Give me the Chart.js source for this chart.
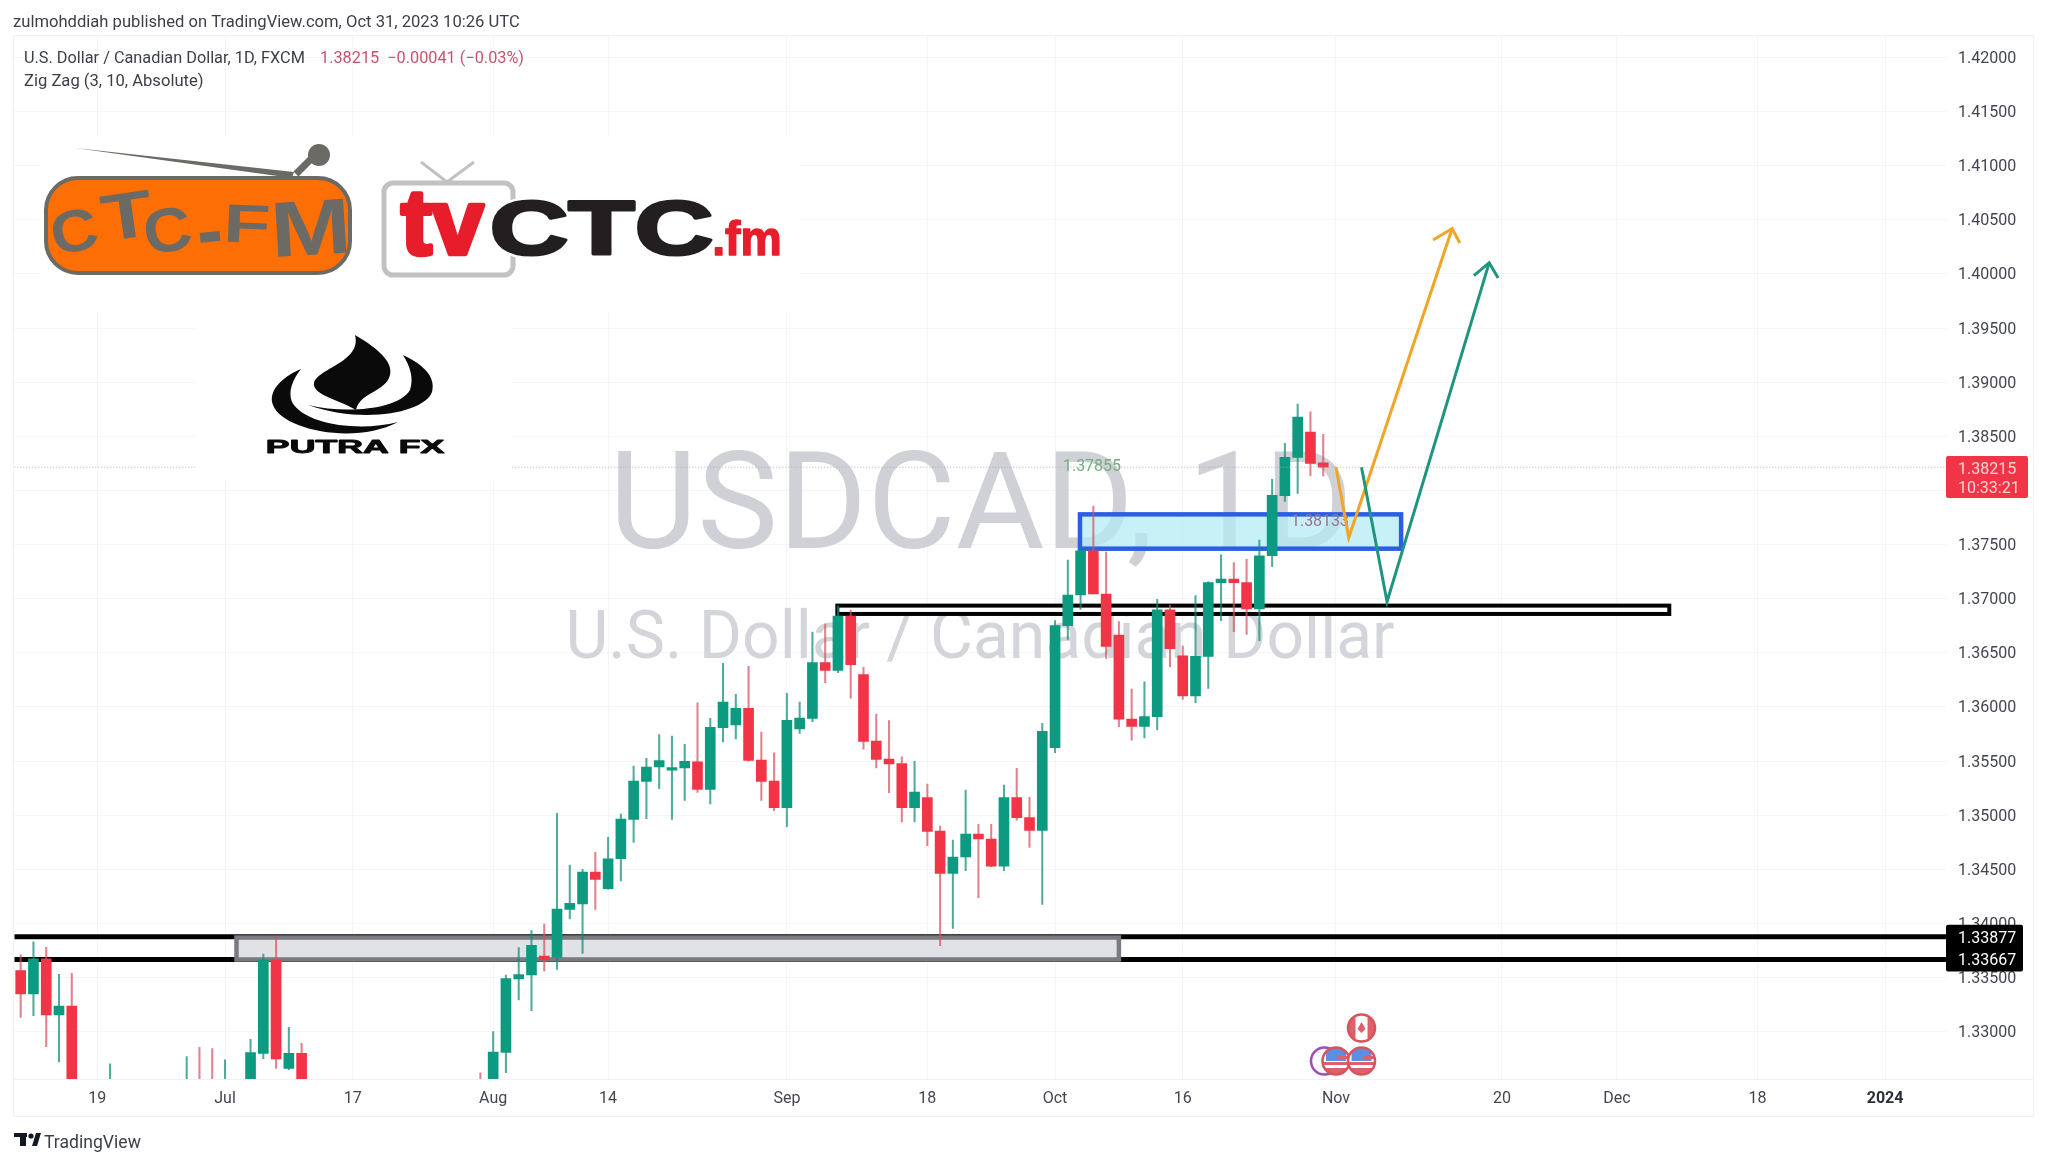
<!DOCTYPE html>
<html>
<head>
<meta charset="utf-8">
<title>USDCAD 1D</title>
<script src="https://cdn.jsdelivr.net/npm/chart.js@4/dist/chart.umd.js"></script>
<style>
	html, body { margin: 0; padding: 0; background: #ffffff; }
	canvas { display: block; }
</style>
</head>
<body>
<canvas id="chartPreview" width="2048" height="1164"></canvas>
<script>
// daily bars, values (bars below the axis bottom are rough guesses)
const dates = [
	'06-09', '06-12', '06-13', '06-14', '06-15', '06-16', '06-19', '06-20', '06-21', '06-22',
	'06-23', '06-26', '06-27', '06-28', '06-29', '06-30', '07-03', '07-04', '07-05', '07-06',
	'07-07', '07-10', '07-11', '07-12', '07-13', '07-14', '07-17', '07-18', '07-19', '07-20',
	'07-21', '07-24', '07-25', '07-26', '07-27', '07-28', '07-31', '08-01', '08-02', '08-03',
	'08-04', '08-07', '08-08', '08-09', '08-10', '08-11', '08-14', '08-15', '08-16', '08-17',
	'08-18', '08-21', '08-22', '08-23', '08-24', '08-25', '08-28', '08-29', '08-30', '08-31',
	'09-01', '09-04', '09-05', '09-06', '09-07', '09-08', '09-11', '09-12', '09-13', '09-14',
	'09-15', '09-18', '09-19', '09-20', '09-21', '09-22', '09-25', '09-26', '09-27', '09-28',
	'09-29', '10-02', '10-03', '10-04', '10-05', '10-06', '10-09', '10-10', '10-11', '10-12',
	'10-13', '10-16', '10-17', '10-18', '10-19', '10-20', '10-23', '10-24', '10-25', '10-26',
	'10-27', '10-30', '10-31'
];
const opens = [
	1.33564, 1.33348, 1.33672, 1.33154, 1.33237, 1.3240, 1.3210, 1.3200, 1.3240, 1.3215,
	1.3210, 1.3175, 1.3215, 1.3210, 1.3235, 1.3200, 1.3190, 1.3235, 1.3225, 1.32800,
	1.33662, 1.32661, 1.32800, 1.3240, 1.3215, 1.3180, 1.3140, 1.3120, 1.3115, 1.3180,
	1.3170, 1.3200, 1.3190, 1.3215, 1.3155, 1.3195, 1.3215, 1.3190, 1.32809, 1.33487,
	1.33524, 1.33699, 1.33687, 1.34130, 1.34180, 1.34475, 1.34321, 1.34598, 1.34962, 1.35313,
	1.35445, 1.35417, 1.35436, 1.35494, 1.35239, 1.35808, 1.35833, 1.35987, 1.35510, 1.35316,
	1.35069, 1.35796, 1.35895, 1.36409, 1.36338, 1.36840, 1.36298, 1.35685, 1.35519, 1.35476,
	1.35069, 1.35162, 1.34854, 1.34463, 1.34614, 1.34826, 1.34780, 1.34530, 1.35162, 1.34977,
	1.34860, 1.35624, 1.36751, 1.37034, 1.37443, 1.37043, 1.36664, 1.35888, 1.35821, 1.35910,
	1.36898, 1.36473, 1.36101, 1.36467, 1.37148, 1.37182, 1.37148, 1.36905, 1.37397, 1.37951,
	1.38306, 1.38539, 1.38256
];
const highs = [
	1.33709, 1.33831, 1.33779, 1.33530, 1.33539, 1.3250, 1.3235, 1.32702, 1.3255, 1.3245,
	1.3250, 1.3225, 1.3250, 1.32769, 1.32856, 1.32843, 1.32739, 1.3250, 1.32929, 1.33718,
	1.33878, 1.33040, 1.32892, 1.3250, 1.3225, 1.3200, 1.3170, 1.3150, 1.3190, 1.3200,
	1.3215, 1.3235, 1.3225, 1.3235, 1.3210, 1.3230, 1.32621, 1.33000, 1.33524, 1.33776,
	1.33933, 1.33995, 1.35017, 1.34540, 1.34500, 1.34657, 1.34795, 1.35011, 1.35454, 1.35525,
	1.35744, 1.35731, 1.35654, 1.36039, 1.35895, 1.36403, 1.36116, 1.36375, 1.35768, 1.35577,
	1.36125, 1.36045, 1.36692, 1.36766, 1.36932, 1.36895, 1.36366, 1.35935, 1.35873, 1.35540,
	1.35497, 1.35288, 1.34900, 1.34771, 1.35233, 1.34915, 1.34915, 1.35279, 1.35433, 1.35165,
	1.35848, 1.36797, 1.37357, 1.37480, 1.37855, 1.37431, 1.36788, 1.36166, 1.36233, 1.36994,
	1.36941, 1.36563, 1.37028, 1.37157, 1.37406, 1.37333, 1.37363, 1.37542, 1.38102, 1.38435,
	1.38798, 1.38727, 1.38518
];
const lows = [
	1.33133, 1.33148, 1.32862, 1.32720, 1.3235, 1.3190, 1.3180, 1.3190, 1.3200, 1.3190,
	1.3165, 1.3160, 1.3190, 1.3200, 1.3185, 1.3170, 1.3180, 1.3215, 1.3215, 1.32751,
	1.32661, 1.32650, 1.3235, 1.3205, 1.3170, 1.3130, 1.3110, 1.3100, 1.3105, 1.3150,
	1.3155, 1.3170, 1.3170, 1.3140, 1.3150, 1.3180, 1.3180, 1.3180, 1.32621, 1.33293,
	1.33194, 1.33560, 1.33576, 1.34041, 1.33724, 1.34130, 1.34315, 1.34392, 1.34749, 1.34968,
	1.35245, 1.34962, 1.35137, 1.35211, 1.35103, 1.35676, 1.35704, 1.35500, 1.35137, 1.35042,
	1.34894, 1.35756, 1.35864, 1.36224, 1.36316, 1.36082, 1.35611, 1.35436, 1.35208, 1.34937,
	1.34937, 1.34718, 1.33794, 1.33955, 1.34487, 1.34238, 1.34524, 1.34487, 1.34955, 1.34703,
	1.34176, 1.35577, 1.36624, 1.36901, 1.37043, 1.36449, 1.35818, 1.35694, 1.35713, 1.35787,
	1.36372, 1.36070, 1.36039, 1.36172, 1.36797, 1.36695, 1.36671, 1.36612, 1.37296, 1.37899,
	1.37973, 1.38136, 1.38133
];
const closes = [
	1.33348, 1.33672, 1.33154, 1.33237, 1.3240, 1.3210, 1.3200, 1.3240, 1.3215, 1.3210,
	1.3175, 1.3215, 1.3235, 1.3235, 1.3200, 1.3190, 1.3235, 1.3225, 1.32806, 1.33662,
	1.32748, 1.32800, 1.3240, 1.3215, 1.3180, 1.3140, 1.3120, 1.3115, 1.3180, 1.3170,
	1.3200, 1.3190, 1.3215, 1.3155, 1.3195, 1.3190, 1.3190, 1.32812, 1.33490, 1.33527,
	1.33798, 1.33662, 1.34133, 1.34186, 1.34475, 1.34407, 1.34598, 1.34965, 1.35316, 1.35445,
	1.35504, 1.35439, 1.35497, 1.35239, 1.35811, 1.36045, 1.35987, 1.35507, 1.35313, 1.35069,
	1.35876, 1.35898, 1.36409, 1.36338, 1.36840, 1.36390, 1.35682, 1.35516, 1.35473, 1.35069,
	1.35214, 1.34851, 1.34463, 1.34614, 1.34826, 1.34780, 1.34530, 1.35162, 1.34977, 1.34860,
	1.35774, 1.36751, 1.37034, 1.37443, 1.37043, 1.36560, 1.35888, 1.35821, 1.35910, 1.36898,
	1.36538, 1.36101, 1.36467, 1.37148, 1.37182, 1.37148, 1.36905, 1.37397, 1.37955, 1.38306,
	1.38678, 1.38250, 1.38215
];

const priceTicks = [1.33, 1.335, 1.34, 1.345, 1.35, 1.355, 1.36, 1.365, 1.37, 1.375, 1.38, 1.385, 1.39, 1.395, 1.4, 1.405, 1.41, 1.415, 1.42];
const timeTickBars = [6, 16, 26, 37, 46, 60, 71, 81, 91, 103, 116, 125, 136, 146];
const timeTickLabels = ['19', 'Jul', '17', 'Aug', '14', 'Sep', '18', 'Oct', '16', 'Nov', '20', 'Dec', '18', '2024'];

const lastPrice = 1.38215;
const supportLevels = [1.33877, 1.33667];
const greyZoneBars = [16.9, 86];
const greyZonePrices = [1.33870, 1.33667];
const blueZoneBars = [82.95, 108.1];
const blueZonePrices = [1.37779, 1.37462];
const blackZoneBars = [63.95, 129.1];
const blackZonePrices = [1.36936, 1.36859];

const orangePathBars = [103, 104, 112.1];
const orangePathPrices = [1.38215, 1.37564, 1.40419];
const orangeHeadBars = [110.6, 112.1, 112.7];
const orangeHeadPrices = [1.40313, 1.40419, 1.40286];
const greenPathBars = [105, 107, 115];
const greenPathPrices = [1.38215, 1.36972, 1.40104];
const greenHeadBars = [113.8, 115, 115.7];
const greenHeadPrices = [1.39984, 1.40104, 1.39962];

const UP_COLOR = '#0c9a80';
const DOWN_COLOR = '#f23447';
const UP_WICK = 'rgba(12,140,118,0.72)';
const DOWN_WICK = 'rgba(215,80,95,0.72)';
const FONT = 'Roboto, "Liberation Sans", sans-serif';
const LOGO_FONT = 'bold 100px "Liberation Sans"';

const toPoints = function (xs, ys) {
	return xs.map(function (x, i) {
		return { x: x, y: ys[i] };
	});
};

const lineDataset = function (points, color, width, order, dash) {
	return {
		type: 'line',
		data: points,
		borderColor: color,
		borderWidth: width,
		borderDash: dash || [],
		pointRadius: 0,
		tension: 0,
		order: order,
	};
};

const isUp = function (i) {
	return closes[i] >= opens[i];
};

const isBoldTick = function (ctx) {
	return ctx.tick && ctx.tick.label === '2024';
};

const text = function (ctx, str, x, y, font, color, align) {
	ctx.font = font;
	ctx.fillStyle = color;
	ctx.textAlign = align || 'left';
	ctx.textBaseline = 'alphabetic';
	ctx.fillText(str, x, y);
};

// squeezes a word into a box, logos only
const fitText = function (ctx, str, left, right, top, bottom, color, weight, rotation, halo) {
	ctx.save();
	ctx.font = LOGO_FONT;
	ctx.textAlign = 'left';
	ctx.textBaseline = 'alphabetic';
	const m = ctx.measureText(str);
	const w = m.actualBoundingBoxLeft + m.actualBoundingBoxRight;
	const h = m.actualBoundingBoxAscent + m.actualBoundingBoxDescent;
	ctx.translate((left + right) / 2, (top + bottom) / 2);
	ctx.rotate(rotation || 0);
	ctx.scale((right - left) / w, (bottom - top) / h);
	const tx = -(m.actualBoundingBoxRight - m.actualBoundingBoxLeft) / 2;
	const ty = (m.actualBoundingBoxAscent - m.actualBoundingBoxDescent) / 2;
	if (halo) {
		ctx.strokeStyle = '#ffffff';
		ctx.lineWidth = halo;
		ctx.strokeText(str, tx, ty);
	}
	ctx.fillStyle = color;
	ctx.strokeStyle = color;
	ctx.lineWidth = weight || 0;
	ctx.lineJoin = 'round';
	if (weight) {
		ctx.strokeText(str, tx, ty);
	}
	ctx.fillText(str, tx, ty);
	ctx.restore();
};

const drawWatermark = function (chart) {
	const ctx = chart.ctx;
	ctx.save();
	text(ctx, 'USDCAD, 1D', 981, 548, '136px ' + FONT, '#cfd1d6', 'center');
	text(ctx, 'U.S. Dollar / Canadian Dollar', 980, 658, '66px ' + FONT, '#d3d5da', 'center');
	ctx.restore();
};

const drawZone = function (chart, bars, prices, fill, stroke, width) {
	const ctx = chart.ctx;
	const x = chart.scales.x;
	const y = chart.scales.y;
	const left = x.getPixelForValue(bars[0]);
	const right = x.getPixelForValue(bars[1]);
	const top = y.getPixelForValue(prices[0]);
	const bottom = y.getPixelForValue(prices[1]);
	ctx.save();
	ctx.fillStyle = fill;
	ctx.fillRect(left, top, right - left, bottom - top);
	ctx.strokeStyle = stroke;
	ctx.lineWidth = width;
	ctx.strokeRect(left, top, right - left, bottom - top);
	ctx.restore();
};

const drawFrame = function (chart) {
	const ctx = chart.ctx;
	ctx.save();
	ctx.strokeStyle = '#eff1f4';
	ctx.lineWidth = 1;
	ctx.strokeRect(13.5, 35.5, 2020, 1081);
	ctx.beginPath();
	ctx.moveTo(14, 1079.5);
	ctx.lineTo(2034, 1079.5);
	ctx.stroke();
	ctx.restore();
};

const drawHeader = function (ctx) {
	text(ctx, 'zulmohddiah published on TradingView.com, Oct 31, 2023 10:26 UTC', 13, 27, '16.6px ' + FONT, '#3c3f48');
	text(ctx, 'U.S. Dollar / Canadian Dollar, 1D, FXCM', 24, 63, '16.3px ' + FONT, '#3c3f48');
	text(ctx, '1.38215  \u22120.00041 (\u22120.03%)', 320, 63, '16.3px ' + FONT, '#c4566c');
	text(ctx, 'Zig Zag (3, 10, Absolute)', 24, 86, '16.6px ' + FONT, '#3c3f48');

	// footer mark
	ctx.fillStyle = '#131722';
	ctx.fillRect(14, 1133, 13, 4);
	ctx.fillRect(20, 1133, 6, 13);
	ctx.beginPath();
	ctx.arc(31, 1136, 2.6, 0, Math.PI * 2);
	ctx.fill();
	ctx.beginPath();
	ctx.moveTo(32, 1146);
	ctx.lineTo(36, 1133);
	ctx.lineTo(41, 1133);
	ctx.lineTo(37, 1146);
	ctx.closePath();
	ctx.fill();
	text(ctx, 'TradingView', 44, 1148, '17.6px ' + FONT, '#3c3f48');
};

const drawRadioLogo = function (ctx) {
	const gray = '#6b6a65';
	ctx.fillStyle = gray;
	ctx.beginPath();
	ctx.moveTo(75, 148);
	ctx.lineTo(294, 172);
	ctx.lineTo(292, 178);
	ctx.closePath();
	ctx.fill();
	ctx.strokeStyle = gray;
	ctx.lineWidth = 7;
	ctx.beginPath();
	ctx.moveTo(296, 174);
	ctx.lineTo(312, 158);
	ctx.stroke();
	ctx.beginPath();
	ctx.arc(319, 155, 11, 0, Math.PI * 2);
	ctx.fill();

	ctx.beginPath();
	ctx.roundRect(46, 178, 304, 95, 32);
	ctx.fillStyle = '#fd6e05';
	ctx.fill();
	ctx.lineWidth = 4;
	ctx.stroke();

	fitText(ctx, 'C', 53, 96, 210, 252, gray, 0, -0.2);
	fitText(ctx, 'T', 102, 152, 192, 238, gray, 0, -0.14);
	fitText(ctx, 'C', 146, 190, 208, 252, gray, 0, -0.16);
	fitText(ctx, '.', 199, 220, 232, 242, gray, 0, -0.1);
	fitText(ctx, 'F', 228, 268, 205, 243, gray, 0, 0.04);
	fitText(ctx, 'M', 276, 345, 200, 255, gray, 0, -0.06);
};

const drawTvLogo = function (ctx) {
	ctx.strokeStyle = '#c2c2c2';
	ctx.lineWidth = 5;
	ctx.beginPath();
	ctx.roundRect(384, 183, 129, 92, 9);
	ctx.stroke();
	ctx.lineWidth = 3;
	ctx.beginPath();
	ctx.moveTo(421, 162);
	ctx.lineTo(447, 182);
	ctx.lineTo(474, 162);
	ctx.stroke();

	fitText(ctx, 'tv', 402, 484, 193, 255, '#e71d2b', 5);
	fitText(ctx, 'CTC', 494, 711, 201, 255, '#231f20', 4, 0, 10);
	fitText(ctx, '.fm', 715, 779, 220, 255, '#e71d2b', 3);
};

const drawPutraLogo = function (ctx) {
	ctx.fillStyle = '#0a0a0a';
	// center flame
	ctx.beginPath();
	ctx.moveTo(355, 335);
	ctx.bezierCurveTo(372, 345, 394, 360, 390, 375);
	ctx.bezierCurveTo(386, 392, 360, 392, 356, 410);
	ctx.bezierCurveTo(340, 400, 312, 395, 314, 383);
	ctx.bezierCurveTo(318, 368, 362, 362, 355, 335);
	ctx.closePath();
	ctx.fill();
	// left and bottom crescent
	ctx.beginPath();
	ctx.moveTo(301, 369);
	ctx.bezierCurveTo(280, 378, 268, 392, 273, 405);
	ctx.bezierCurveTo(282, 430, 355, 445, 398, 422);
	ctx.bezierCurveTo(360, 432, 305, 425, 292, 402);
	ctx.bezierCurveTo(288, 392, 292, 380, 301, 369);
	ctx.closePath();
	ctx.fill();
	// right crescent
	ctx.beginPath();
	ctx.moveTo(403, 355);
	ctx.bezierCurveTo(425, 365, 436, 378, 432, 392);
	ctx.bezierCurveTo(425, 412, 365, 425, 308, 405);
	ctx.bezierCurveTo(345, 414, 398, 410, 410, 390);
	ctx.bezierCurveTo(414, 378, 410, 366, 403, 355);
	ctx.closePath();
	ctx.fill();

	fitText(ctx, 'PUTRA FX', 268, 444, 440, 453, '#0a0a0a', 5);
};

const drawEventIcon = function (ctx, cx, cy, kind) {
	ctx.save();
	ctx.beginPath();
	ctx.arc(cx, cy, 13, 0, Math.PI * 2);
	ctx.fillStyle = '#ffffff';
	ctx.fill();
	ctx.clip();
	if (kind === 'us') {
		ctx.fillStyle = '#5c8fe0';
		ctx.fillRect(cx - 10, cy - 13, 20, 13);
		ctx.fillStyle = '#e0606a';
		ctx.fillRect(cx - 13, cy + 1, 26, 3);
		ctx.fillRect(cx - 13, cy + 7, 26, 6);
		ctx.fillRect(cx + 2, cy - 5, 11, 3);
	} else if (kind === 'ca') {
		ctx.fillStyle = '#e0606a';
		ctx.fillRect(cx - 13, cy - 13, 7, 26);
		ctx.fillRect(cx + 6, cy - 13, 7, 26);
		ctx.beginPath();
		ctx.moveTo(cx, cy - 6);
		ctx.lineTo(cx + 4, cy + 1);
		ctx.lineTo(cx, cy + 5);
		ctx.lineTo(cx - 4, cy + 1);
		ctx.closePath();
		ctx.fill();
	}
	ctx.restore();
	ctx.beginPath();
	ctx.arc(cx, cy, 13.5, 0, Math.PI * 2);
	ctx.strokeStyle = kind === 'other' ? '#9c4fb8' : '#d9535e';
	ctx.lineWidth = 2.5;
	ctx.stroke();
};

const drawPriceLabels = function (chart) {
	const ctx = chart.ctx;
	const y = chart.scales.y;
	ctx.save();
	// black level tags
	ctx.fillStyle = '#000000';
	const top = y.getPixelForValue(supportLevels[0]) - 12;
	const bottom = y.getPixelForValue(supportLevels[1]) + 12;
	ctx.beginPath();
	ctx.roundRect(1946, top, 77, bottom - top, 2);
	ctx.fill();
	supportLevels.forEach(function (level) {
		text(ctx, level.toFixed(5), 1958, y.getPixelForValue(level) + 6, '16px ' + FONT, '#ffffff');
	});
	// last price tag
	ctx.fillStyle = DOWN_COLOR;
	ctx.beginPath();
	ctx.roundRect(1946, 456, 82, 42, 2);
	ctx.fill();
	text(ctx, lastPrice.toFixed(5), 1958, 474, '16px ' + FONT, '#ffd5d8');
	text(ctx, '10:33:21', 1958, 493, '16px ' + FONT, '#ffd5d8');
	ctx.restore();
};

const overlayPlugin = {
	id: 'overlay',
	beforeDatasetsDraw: function (chart) {
		drawWatermark(chart);
	},
	beforeDatasetDraw: function (chart, args) {
		// zones sit over the level lines but under the candles
		if (args.index !== 2) {
			return;
		}
		drawZone(chart, greyZoneBars, greyZonePrices, '#e1e2e5', '#797a82', 4.5);
		drawZone(chart, blackZoneBars, blackZonePrices, '#ffffff', '#000000', 4);
		drawZone(chart, blueZoneBars, blueZonePrices, 'rgba(178,235,242,0.72)', '#2b5ee6', 4.5);
		const ctx = chart.ctx;
		ctx.save();
		text(ctx, '1.37855', 1092, 471, '16px ' + FONT, '#74ad7d', 'center');
		text(ctx, '1.38133', 1320, 526, '16px ' + FONT, '#9a7092', 'center');
		ctx.restore();
	},
	afterDraw: function (chart) {
		const ctx = chart.ctx;
		const x = chart.scales.x;
		ctx.save();
		drawFrame(chart);
		drawHeader(ctx);
		// logos were pasted on white panels
		ctx.fillStyle = '#ffffff';
		ctx.fillRect(39, 137, 761, 176);
		ctx.fillRect(195, 313, 317, 167);
		drawRadioLogo(ctx);
		drawTvLogo(ctx);
		drawPutraLogo(ctx);
		drawEventIcon(ctx, x.getPixelForValue(102.1), 1061, 'other');
		drawEventIcon(ctx, x.getPixelForValue(103), 1061, 'us');
		drawEventIcon(ctx, x.getPixelForValue(105), 1061, 'us');
		drawEventIcon(ctx, x.getPixelForValue(105), 1028, 'ca');
		ctx.restore();
		drawPriceLabels(chart);
	},
};

const handleInitialChart = function () {
	const chart = document.getElementById('chartPreview').getContext('2d');
	const lastBar = 150.77;

	new Chart(chart, {
		type: 'bar',
		plugins: [overlayPlugin],
		data: {
			datasets: [
				lineDataset(toPoints([-0.5, lastBar], [supportLevels[0], supportLevels[0]]), '#000000', 5, 9),
				lineDataset(toPoints([-0.5, lastBar], [supportLevels[1], supportLevels[1]]), '#000000', 5, 9),
				{
					// wicks
					data: dates.map(function (d, i) {
						return { x: i, y: [lows[i], highs[i]] };
					}),
					backgroundColor: dates.map(function (d, i) {
						return isUp(i) ? UP_WICK : DOWN_WICK;
					}),
					barThickness: 1.4,
					grouped: false,
					order: 5,
				},
				{
					// bodies
					data: dates.map(function (d, i) {
						return { x: i, y: [Math.min(opens[i], closes[i]), Math.max(opens[i], closes[i])] };
					}),
					backgroundColor: dates.map(function (d, i) {
						return isUp(i) ? UP_COLOR : DOWN_COLOR;
					}),
					barThickness: 10,
					grouped: false,
					order: 4,
				},
				lineDataset(toPoints([-0.5, lastBar], [lastPrice, lastPrice]), '#a9abb0', 1, 3, [1, 2]),
				lineDataset(toPoints(orangePathBars, orangePathPrices), '#f0a428', 3, 2),
				lineDataset(toPoints(orangeHeadBars, orangeHeadPrices), '#f0a428', 3, 2),
				lineDataset(toPoints(greenPathBars, greenPathPrices), '#1f9580', 3, 1),
				lineDataset(toPoints(greenHeadBars, greenHeadPrices), '#1f9580', 3, 1),
			]
		},
		options: {
			responsive: false,
			animation: false,
			events: [],
			layout: {
				padding: { left: 14.3, top: 36, right: 14, bottom: 48 }
			},
			plugins: {
				legend: { display: false },
				tooltip: { enabled: false },
			},
			scales: {
				x: {
					type: 'linear',
					offset: false,
					min: -0.5,
					max: lastBar,
					afterBuildTicks: function (axis) {
						axis.ticks = timeTickBars.map(function (v) {
							return { value: v };
						});
					},
					afterFit: function (axis) {
						axis.height = 37;
					},
					grid: {
						offset: false,
						color: '#f4f5f7',
						drawTicks: false,
					},
					border: { display: false },
					ticks: {
						color: function (ctx) {
							return isBoldTick(ctx) ? '#2a2e39' : '#434651';
						},
						font: function (ctx) {
							return { family: FONT, size: 16, weight: isBoldTick(ctx) ? 'bold' : 'normal' };
						},
						padding: 10,
						maxRotation: 0,
						autoSkip: false,
						callback: function (value) {
							return timeTickLabels[timeTickBars.indexOf(value)];
						},
					},
				},
				y: {
					type: 'linear',
					position: 'right',
					min: 1.32563,
					max: 1.42198,
					afterBuildTicks: function (axis) {
						axis.ticks = priceTicks.map(function (v) {
							return { value: v };
						});
					},
					afterFit: function (axis) {
						axis.width = 88;
					},
					grid: {
						color: '#f4f5f7',
						drawTicks: false,
					},
					border: { display: false },
					ticks: {
						color: '#434651',
						font: { family: FONT, size: 16 },
						padding: 12,
						labelOffset: 1.5,
						callback: function (value) {
							return value.toFixed(5);
						},
					},
				},
			},
		},
	});
};

handleInitialChart();
</script>
</body>
</html>
